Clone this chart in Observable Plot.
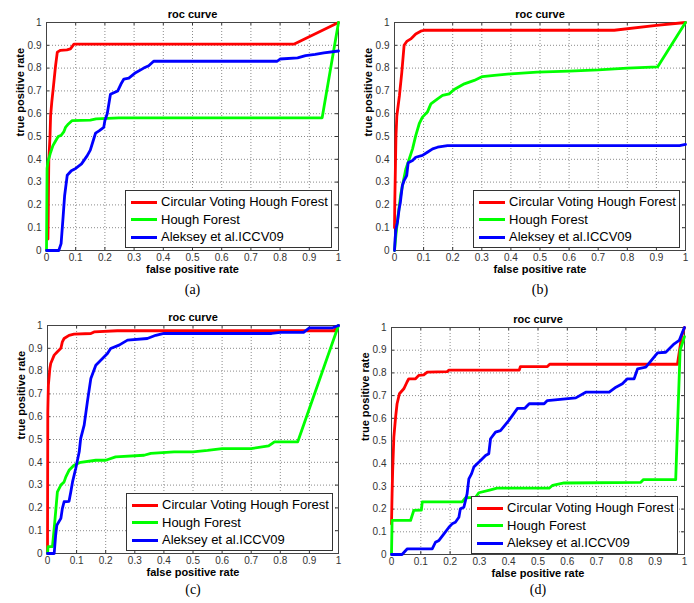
<!DOCTYPE html>
<html>
<head>
<meta charset="utf-8">
<script src="https://cdn.jsdelivr.net/npm/d3@7"></script>
<script src="https://cdn.jsdelivr.net/npm/@observablehq/plot@0.6"></script>
<style>
  html, body { margin: 0; padding: 0; background: #fff; }
  #root { position: relative; width: 694px; height: 603px; overflow: hidden; background: #fff; }
  .cell { position: absolute; width: 347px; height: 300px; }
  .cell svg { display: block; }
  .legend { position: absolute; box-sizing: border-box; border: 1px solid #333; background: #fff;
            font-family: "Liberation Sans", Arial, sans-serif; font-size: 13px; color: #000; }
  .legend .row { position: absolute; left: 0; height: 16px; line-height: 16px; white-space: nowrap; }
  .legend .row span.sw { position: absolute; left: 5px; top: 6.5px; width: 26px; height: 3px; }
  .legend .row span.lb { position: absolute; left: 35px; top: 0; }
</style>
</head>
<body>
<div id="root"></div>
<script>
// ---- data ----
const seriesNames = ["Circular Voting Hough Forest", "Hough Forest", "Aleksey et al.ICCV09"];
const seriesColors = ["#ff0000", "#00ff00", "#0000ff"];
const panelTitles = ["roc curve", "roc curve", "roc curve", "roc curve"];
const panelCaptions = ["(a)", "(b)", "(c)", "(d)"];
const xAxisLabel = "false positive rate";
const yAxisLabel = "true positive rate";
const tickValues = [0, 0.1, 0.2, 0.3, 0.4, 0.5, 0.6, 0.7, 0.8, 0.9, 1];
const tickLabels = ["0", "0.1", "0.2", "0.3", "0.4", "0.5", "0.6", "0.7", "0.8", "0.9", "1"];

// panel (a)
const a_cvhf = [[0.005,0.05],[0.006,0.15],[0.007,0.3],[0.008,0.40],[0.012,0.5],[0.014,0.59],[0.018,0.65],[0.023,0.71],[0.027,0.76],[0.031,0.81],[0.037,0.87],[0.048,0.878],[0.07,0.88],[0.082,0.884],[0.094,0.905],[0.847,0.905],[1,1]];
const a_hf = [[0,0],[0.002,0.36],[0.005,0.39],[0.014,0.43],[0.022,0.46],[0.031,0.48],[0.04,0.5],[0.05,0.505],[0.059,0.52],[0.065,0.54],[0.075,0.555],[0.088,0.57],[0.15,0.572],[0.17,0.577],[0.248,0.582],[0.944,0.582],[1,1]];
const a_icc = [[0,0],[0.042,0],[0.05,0.03],[0.057,0.15],[0.062,0.24],[0.068,0.3],[0.071,0.33],[0.085,0.35],[0.1,0.36],[0.12,0.38],[0.139,0.415],[0.15,0.44],[0.162,0.49],[0.168,0.515],[0.18,0.525],[0.196,0.54],[0.2,0.57],[0.208,0.6],[0.219,0.685],[0.244,0.70],[0.255,0.73],[0.265,0.752],[0.282,0.756],[0.305,0.78],[0.333,0.8],[0.35,0.81],[0.367,0.83],[0.79,0.83],[0.80,0.84],[0.86,0.845],[0.887,0.855],[0.92,0.86],[0.95,0.867],[1,0.875]];
// panel (b)
const b_cvhf = [[0,0.1],[0.001,0.21],[0.005,0.5],[0.008,0.59],[0.017,0.68],[0.025,0.78],[0.033,0.9],[0.042,0.917],[0.056,0.928],[0.073,0.95],[0.09,0.962],[0.102,0.966],[0.755,0.966],[0.9,0.987],[1,1]];
const b_hf = [[0,0],[0.005,0.07],[0.012,0.15],[0.022,0.25],[0.033,0.32],[0.039,0.358],[0.047,0.387],[0.062,0.446],[0.073,0.504],[0.085,0.556],[0.096,0.585],[0.113,0.607],[0.125,0.643],[0.148,0.665],[0.165,0.68],[0.188,0.687],[0.205,0.706],[0.24,0.731],[0.274,0.746],[0.302,0.763],[0.343,0.768],[0.4,0.775],[0.49,0.782],[0.6,0.787],[0.7,0.792],[0.8,0.8],[0.904,0.805],[1,1]];
const b_icc = [[0,0],[0.002,0.05],[0.005,0.095],[0.01,0.124],[0.016,0.183],[0.02,0.21],[0.027,0.285],[0.033,0.307],[0.042,0.329],[0.047,0.385],[0.062,0.395],[0.073,0.409],[0.096,0.417],[0.113,0.431],[0.131,0.446],[0.148,0.453],[0.182,0.46],[0.98,0.46],[1,0.465]];
// panel (c)
const c_cvhf = [[0,0],[0.001,0.62],[0.003,0.738],[0.008,0.81],[0.011,0.833],[0.023,0.87],[0.034,0.885],[0.046,0.9],[0.051,0.928],[0.057,0.943],[0.074,0.957],[0.091,0.962],[0.149,0.965],[0.16,0.972],[0.24,0.977],[0.985,0.977],[1,1]];
const c_hf = [[0,0],[0.002,0.03],[0.017,0.03],[0.023,0.11],[0.028,0.183],[0.034,0.27],[0.046,0.30],[0.057,0.314],[0.063,0.336],[0.074,0.365],[0.091,0.387],[0.114,0.40],[0.166,0.409],[0.2,0.409],[0.234,0.424],[0.332,0.431],[0.355,0.439],[0.435,0.446],[0.5,0.446],[0.55,0.452],[0.6,0.46],[0.7,0.46],[0.76,0.472],[0.78,0.49],[0.86,0.49],[1,1]];
const c_icc = [[0,0],[0.023,0],[0.028,0.08],[0.032,0.124],[0.046,0.154],[0.051,0.197],[0.057,0.227],[0.074,0.229],[0.08,0.27],[0.086,0.314],[0.097,0.373],[0.109,0.446],[0.114,0.504],[0.126,0.563],[0.137,0.665],[0.149,0.768],[0.166,0.826],[0.189,0.855],[0.206,0.877],[0.217,0.899],[0.246,0.914],[0.275,0.936],[0.343,0.943],[0.372,0.957],[0.40,0.965],[0.77,0.965],[0.80,0.97],[0.88,0.97],[0.9,0.99],[0.98,0.99],[1,1]];
// panel (d)
const d_cvhf = [[0,0.135],[0.002,0.267],[0.004,0.37],[0.008,0.517],[0.014,0.605],[0.019,0.664],[0.027,0.708],[0.042,0.73],[0.053,0.76],[0.059,0.774],[0.082,0.774],[0.093,0.789],[0.11,0.791],[0.122,0.803],[0.19,0.806],[0.196,0.812],[0.436,0.812],[0.44,0.828],[0.532,0.828],[0.54,0.838],[0.976,0.838],[0.99,0.96],[1,1]];
const d_hf = [[0,0],[0.002,0.15],[0.065,0.15],[0.076,0.194],[0.102,0.196],[0.105,0.232],[0.241,0.232],[0.253,0.25],[0.287,0.252],[0.298,0.272],[0.338,0.285],[0.36,0.292],[0.538,0.292],[0.55,0.305],[0.589,0.315],[0.851,0.318],[0.86,0.33],[0.97,0.33],[0.985,0.9],[1,0.96]];
const d_icc = [[0,0],[0.036,0],[0.054,0.025],[0.139,0.025],[0.15,0.054],[0.162,0.062],[0.179,0.091],[0.196,0.12],[0.207,0.135],[0.218,0.142],[0.23,0.164],[0.235,0.201],[0.247,0.208],[0.258,0.267],[0.264,0.333],[0.273,0.355],[0.281,0.385],[0.304,0.414],[0.321,0.436],[0.332,0.444],[0.338,0.51],[0.355,0.539],[0.372,0.546],[0.40,0.59],[0.43,0.644],[0.455,0.644],[0.47,0.664],[0.521,0.664],[0.532,0.678],[0.629,0.69],[0.663,0.715],[0.743,0.715],[0.766,0.737],[0.788,0.752],[0.805,0.774],[0.828,0.774],[0.84,0.818],[0.868,0.825],[0.908,0.888],[0.936,0.891],[0.965,0.928],[0.982,0.943],[0.993,0.979],[1,1]];

// ---- layout (pixel geometry of each panel cell) ----
const layout = [
  {left: 0,   top: 0,   mL: 46, mR: 9,  mT: 22, mB: 50, leg: {x: 125, y: 190}},
  {left: 347, top: 0,   mL: 47, mR: 9,  mT: 22, mB: 50, leg: {x: 126, y: 190}},
  {left: 0,   top: 300, mL: 47, mR: 9,  mT: 25, mB: 47, leg: {x: 126, y: 193}},
  {left: 347, top: 300, mL: 44, mR: 10, mT: 27, mB: 46, leg: {x: 124, y: 196}}
];
const panelSeries = [
  [a_cvhf, a_hf, a_icc],
  [b_cvhf, b_hf, b_icc],
  [c_cvhf, c_hf, c_icc],
  [d_cvhf, d_hf, d_icc]
];

const W = 347, H = 300;
const font = "'Liberation Sans', Arial, Helvetica, sans-serif";
const root = document.getElementById("root");

panelSeries.forEach((arrs, p) => {
  const L = layout[p];
  const fw = W - L.mL - L.mR, fh = H - L.mT - L.mB;
  const rows = [];
  arrs.forEach((arr, s) => arr.forEach(([x, y]) => rows.push({series: seriesNames[s], x, y})));
  const fmt = d => tickLabels[tickValues.indexOf(d)];
  const tickStroke = "#333";
  const chart = Plot.plot({
    width: W, height: H,
    marginLeft: L.mL, marginRight: L.mR, marginTop: L.mT, marginBottom: L.mB,
    style: {fontFamily: font, fontSize: "10px", color: "#333", background: "#fff", overflow: "visible"},
    x: {domain: [0, 1], label: null},
    y: {domain: [0, 1], label: null},
    color: {domain: seriesNames, range: seriesColors},
    marks: [
      Plot.gridX(tickValues, {stroke: "#8a8a8a", strokeOpacity: 1, strokeDasharray: "1,2"}),
      Plot.gridY(tickValues, {stroke: "#8a8a8a", strokeOpacity: 1, strokeDasharray: "1,2"}),
      Plot.tickX(tickValues, {x: d => d, insetTop: fh - 3, stroke: tickStroke}),
      Plot.tickX(tickValues, {x: d => d, insetBottom: fh - 3, stroke: tickStroke}),
      Plot.tickY(tickValues, {y: d => d, insetRight: fw - 3, stroke: tickStroke}),
      Plot.tickY(tickValues, {y: d => d, insetLeft: fw - 3, stroke: tickStroke}),
      Plot.axisX(tickValues, {tickSize: 0, tickPadding: 3, tickFormat: fmt, fill: "#333"}),
      Plot.axisY(tickValues, {tickSize: 0, tickPadding: 5, tickFormat: fmt, fill: "#333"}),
      Plot.frame({stroke: "#444"}),
      Plot.line(rows, {x: "x", y: "y", z: "series", stroke: "series", strokeWidth: 2.8, strokeLinejoin: "round"}),
      Plot.text([panelTitles[p]], {frameAnchor: "top", dy: -12, fontWeight: "bold", fontSize: 11, fill: "#000"}),
      Plot.text([xAxisLabel], {frameAnchor: "bottom", dy: 22, fontWeight: "bold", fontSize: 11, fill: "#000"}),
      Plot.text([yAxisLabel], {frameAnchor: "left", dx: -26, rotate: -90, fontWeight: "bold", fontSize: 11, fill: "#000"}),
      Plot.text([panelCaptions[p]], {frameAnchor: "bottom", dy: 293 - (H - L.mB), fontSize: 14, fontFamily: "'Liberation Serif', 'Times New Roman', serif", fill: "#000"})
    ]
  });
  const cell = document.createElement("div");
  cell.className = "cell";
  cell.style.left = L.left + "px";
  cell.style.top = L.top + "px";
  cell.appendChild(chart);

  const leg = document.createElement("div");
  leg.className = "legend";
  leg.style.left = L.leg.x + "px";
  leg.style.top = L.leg.y + "px";
  leg.style.width = "207px";
  leg.style.height = "58px";
  seriesNames.forEach((name, i) => {
    const row = document.createElement("div");
    row.className = "row";
    row.style.top = (3 + i * 17.5) + "px";
    const sw = document.createElement("span");
    sw.className = "sw";
    sw.style.background = seriesColors[i];
    const lb = document.createElement("span");
    lb.className = "lb";
    lb.textContent = name;
    row.appendChild(sw);
    row.appendChild(lb);
    leg.appendChild(row);
  });
  cell.appendChild(leg);
  root.appendChild(cell);
});
</script>
</body>
</html>
